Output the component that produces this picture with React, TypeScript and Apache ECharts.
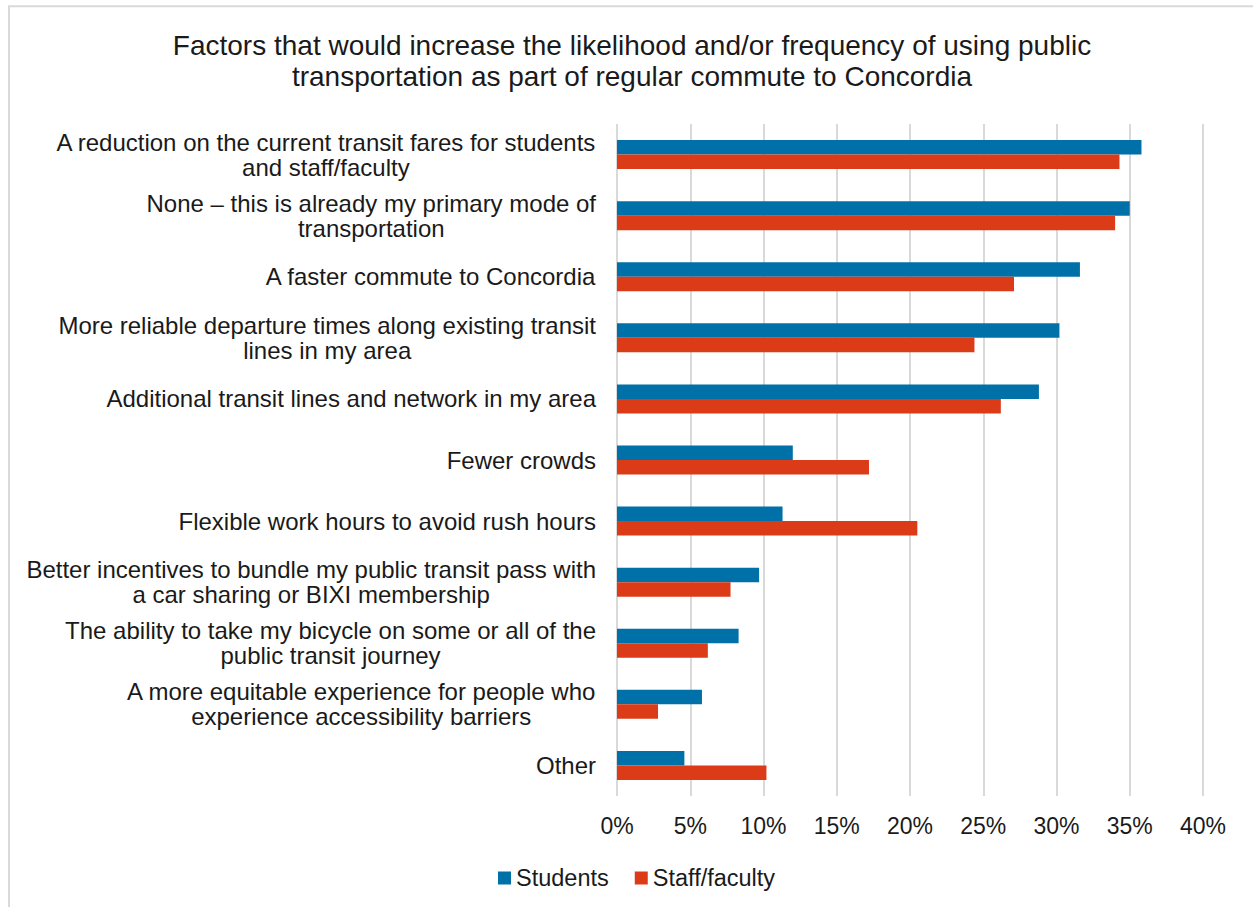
import React, { useEffect, useRef } from "react";
import * as echarts from "echarts";

const categories: string[] = [
  "A reduction on the current transit fares for students\nand staff/faculty",
  "None – this is already my primary mode of\ntransportation",
  "A faster commute to Concordia",
  "More reliable departure times along existing transit\nlines in my area",
  "Additional transit lines and network in my area",
  "Fewer crowds",
  "Flexible work hours to avoid rush hours",
  "Better incentives to bundle my public transit pass with\na car sharing or BIXI membership",
  "The ability to take my bicycle on some or all of the\npublic transit journey",
  "A more equitable experience for people who\nexperience accessibility barriers",
  "Other",
];

const students: number[] = [35.8, 35.0, 31.6, 30.2, 28.8, 12.0, 11.3, 9.7, 8.3, 5.8, 4.6];
const staff: number[] = [34.3, 34.0, 27.1, 24.4, 26.2, 17.2, 20.5, 7.75, 6.2, 2.8, 10.2];

const seriesNames = ["Students", "Staff/faculty"];
const titleText =
  "Factors that would increase the likelihood and/or frequency of using public\ntransportation as part of regular commute to Concordia";

const FONT = "'Liberation Sans', Arial, sans-serif";

export default function App() {
  const ref = useRef<HTMLDivElement>(null);
  useEffect(() => {
    if (!ref.current) return;
    const chart = echarts.init(ref.current, undefined, { renderer: "svg" });
    chart.setOption({
      animation: false,
      backgroundColor: "#ffffff",
      textStyle: { fontFamily: FONT },
      title: {
        text: titleText,
        left: 627,
        textAlign: "center",
        top: 25,
        textStyle: {
          fontFamily: FONT,
          fontSize: 28,
          fontWeight: "normal",
          color: "#1a1a1a",
          lineHeight: 31,
        },
      },
      graphic: [
        {
          type: "rect",
          shape: { x: 9, y: 6.3, width: 1400, height: 1100 },
          style: { fill: "none", stroke: "#d9d9d9", lineWidth: 2 },
          silent: true,
          z: -10,
        },
      ],
      legend: {
        data: seriesNames,
        left: 493,
        top: 861,
        itemWidth: 13,
        itemHeight: 13,
        itemGap: 26,
        icon: "rect",
        textStyle: { fontFamily: FONT, fontSize: 23.5, color: "#1a1a1a" },
      },
      grid: { left: 617, right: 50, top: 124, bottom: 111, containLabel: false },
      xAxis: {
        type: "value",
        min: 0,
        max: 40,
        interval: 5,
        axisLine: { show: false },
        axisTick: { show: false },
        splitLine: { show: true, lineStyle: { color: "#d9d9d9", width: 2 } },
        axisLabel: {
          formatter: "{value}%",
          fontFamily: FONT,
          fontSize: 23,
          color: "#1a1a1a",
          margin: 18,
        },
      },
      yAxis: {
        type: "category",
        data: categories,
        inverse: true,
        axisLine: { show: false },
        axisTick: { show: false },
        axisLabel: {
          margin: 21,
          align: "right",
          fontFamily: FONT,
          fontSize: 24,
          lineHeight: 25,
          color: "#1a1a1a",
          formatter: (v: string) =>
            v
              .split("\n")
              .map((l) => "{c|" + l + "}")
              .join("\n"),
          rich: {
            c: {
              align: "center",
              fontFamily: FONT,
              fontSize: 24,
              lineHeight: 25,
              color: "#1a1a1a",
            },
          },
        },
      },
      series: [
        {
          name: seriesNames[0],
          type: "bar",
          data: students,
          barWidth: 14.5,
          barGap: "0%",
          itemStyle: { color: "#0071A8" },
        },
        {
          name: seriesNames[1],
          type: "bar",
          data: staff,
          barWidth: 14.5,
          barGap: "0%",
          itemStyle: { color: "#DC3B18" },
        },
      ],
    });
    return () => chart.dispose();
  }, []);
  return (
    <div
      ref={ref}
      style={{ position: "fixed", left: 0, top: 0, width: 1253, height: 907 }}
    />
  );
}
